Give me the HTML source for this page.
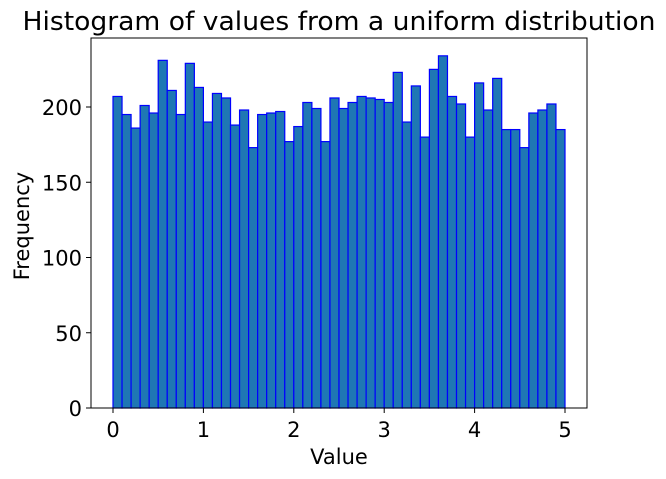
<!DOCTYPE html>
<html><head><meta charset="utf-8"><style>body{margin:0;background:#fff}svg{display:block;font-family:"DejaVu Sans",sans-serif}</style></head>
<body>
<svg id="c" width="666" height="479"></svg>
<script>
const counts=[207,195,186,201,196,231,211,195,229,213,190,209,206,188,198,173,195,196,197,177,187,203,199,177,206,199,203,207,206,205,203,223,190,214,180,225,234,207,202,180,216,198,219,185,185,173,196,198,202,185];
const binStart=0, binWidth=0.1;
const xTicks=[0,1,2,3,4,5];
const yTicks=[0,50,100,150,200];
const L=91,R=587,T=38,B=408;
const xs=v=>113+v*(565-113)/5;
const ys=v=>B-v*1.505;
const svg=document.getElementById('c');
const NS='http://www.w3.org/2000/svg';
function mk(t,a,p){const e=document.createElementNS(NS,t);for(const k in a)e.setAttribute(k,a[k]);(p||svg).appendChild(e);return e;}
const bars=mk('g',{});


counts.forEach((c,i)=>{const x0=xs(binStart+i*binWidth),x1=xs(binStart+(i+1)*binWidth);
const r=mk('rect',{x:x0,y:ys(c),width:x1-x0,height:ys(0)-ys(c),fill:'#1f77b4',stroke:'#0000ff','stroke-width':1.2},bars);

});
const fr=mk('rect',{x:L,y:T,width:R-L,height:B-T,fill:'none',stroke:'#000','stroke-width':1});


xTicks.forEach(v=>{mk('line',{x1:xs(v),x2:xs(v),y1:B,y2:B+5,stroke:'#000'});
const t=mk('text',{x:xs(v),y:B+29,'text-anchor':'middle','font-size':21});t.textContent=v;

});
yTicks.forEach(v=>{mk('line',{x1:L-5,x2:L,y1:ys(v),y2:ys(v),stroke:'#000'});
const t=mk('text',{x:L-9,y:ys(v)+8,'text-anchor':'end','font-size':21});t.textContent=v;

});
</script>
<script>
(function(){const svg=document.getElementById('c');const NS='http://www.w3.org/2000/svg';
function tx(s,a,n){const e=document.createElementNS(NS,'text');for(const k in a)e.setAttribute(k,a[k]);e.textContent=s;svg.appendChild(e);

}
tx('Histogram of values from a uniform distribution',{x:339,y:30,'text-anchor':'middle','font-size':26,textLength:633,lengthAdjust:'spacingAndGlyphs'},'chart-title');
tx('Value',{x:339,y:464,'text-anchor':'middle','font-size':21},'x-axis-title');
tx('Frequency',{x:29,y:226,'text-anchor':'middle','font-size':21,transform:'rotate(-90 29 226)'},'y-axis-title');
})();
</script>
</body></html>
